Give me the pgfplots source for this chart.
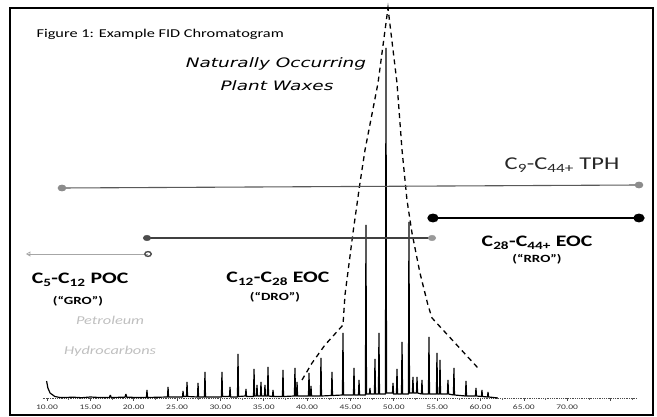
\documentclass[border=0pt]{standalone}
\usepackage{pgfplots}
\pgfplotsset{compat=1.18}
\usepackage{fontspec}
\setmainfont{Carlito}[FakeStretch=1.36]
\newfontfamily\verd{DejaVu Sans}[FakeStretch=1.42]
\tikzset{tl/.style={font=\fontsize{7bp}{8bp}\selectfont, text=black!80}}
\begin{document}
\begin{tikzpicture}
\begin{axis}[
  scale only axis, width=643bp, height=407bp,
  xmin=5.73, xmax=79.9, ymin=-17, ymax=390,
  xtick=\empty, ytick=\empty,
  axis line style={line width=1.2pt},
  clip=false,
]
% dotted time axis
\addplot[black!70, densely dotted, line width=0.8pt] coordinates {(9.5,0) (78,0)};
% tick marks
\addplot[ycomb, black!70, line width=0.6pt, mark=none] coordinates {
(10,-3) (15,-3) (20,-3) (25,-3) (30,-3) (35,-3) (40,-3) (45,-3) (50,-3) (55,-3) (60,-3) (65,-3) (70,-3) (75,-3)};
\addplot[ycomb, black!60, line width=0.5pt, mark=none] coordinates {
(12.5,-2) (17.5,-2) (22.5,-2) (27.5,-2) (32.5,-2) (37.5,-2) (42.5,-2) (47.5,-2) (52.5,-2) (57.5,-2) (62.5,-2) (67.5,-2) (72.5,-2) (77.5,-2)};
% chromatogram
\addplot[black, line width=1.2pt, line join=bevel, mark=none] coordinates {
(9.95,17) (10.1,10) (10.35,5) (10.9,1.5) (11.5,0.5)
(12,0.5) (13,0.8) (14,0.3) (15,1) (16,0.5) (17.2,0.5) (17.3,3) (17.4,0.5) (19,0.8) (19.1,4) (19.2,0.8) (20.5,0.5)
(21.47,0.5) (21.53,8) (21.59,0.5) (23.9,1) (23.96,11) (24.02,1) (25.63,1) (25.69,7) (25.75,1.5)
(26.09,1.5) (26.15,16) (26.21,1.5) (27.36,1) (27.42,15) (27.48,1) (28.16,1) (28.22,26) (28.28,1)
(30.12,1) (30.18,26) (30.24,1.5) (31.05,1.5) (31.11,11) (31.17,1) (31.97,1) (32.03,44) (32.09,1.5)
(32.89,2) (32.95,9) (33.01,1.5) (33.82,1.5) (33.88,29) (33.94,2) (34.16,2) (34.22,13) (34.28,2)
(34.62,2) (34.68,16) (34.74,2) (35.08,2) (35.14,13) (35.2,2) (35.43,2) (35.49,31) (35.55,2)
(36.01,1.5) (36.07,8) (36.13,1.5) (37.16,1.5) (37.22,28) (37.28,1.5) (38.54,2) (38.6,30) (38.66,2)
(38.78,2) (38.84,16) (38.9,2) (40.16,2) (40.22,25) (40.28,2) (40.39,2) (40.45,12) (40.51,2)
(41.54,2) (41.6,40) (41.66,2) (42.81,2.5) (42.87,26) (42.93,2.5) (44.08,3) (44.14,65) (44.2,3)
(45.35,3) (45.41,30) (45.47,3) (45.93,3) (45.99,18) (46.05,3) (46.73,3) (46.79,173) (46.85,4)
(47.19,4) (47.25,10) (47.31,4) (47.77,4) (47.83,39) (47.89,4) (48.23,4) (48.29,65) (48.35,4)
(49.04,4) (49.1,350) (49.16,5) (49.85,5) (49.91,15) (49.97,4) (50.31,4) (50.37,29) (50.43,4)
(50.89,4) (50.95,56) (51.01,4) (51.69,4) (51.75,176) (51.81,5) (52.15,5) (52.21,21) (52.27,5)
(52.62,5) (52.68,21) (52.74,5) (53.19,4) (53.25,18) (53.31,4) (54,4) (54.06,61) (54.12,4)
(54.92,4) (54.98,45) (55.04,4) (55.27,4) (55.33,38) (55.39,4) (56.19,4) (56.25,18) (56.31,4)
(56.88,3) (56.94,30) (57,3) (58.27,2) (58.33,17) (58.39,2) (59.42,2) (59.48,10) (59.54,2)
(60.11,1.5) (60.17,8) (60.23,1.5) (60.81,1) (60.87,6) (60.93,1) (61.5,0.5) (62,0)};
% dashed envelope
\addplot[black, line width=1.3pt, dash pattern=on 5bp off 4bp, mark=none] coordinates {
(39.41,18) (40.57,35) (42.06,53) (44.14,73) (44.37,103) (45.29,165) (46.10,215) (46.68,248) (48.18,315) (49.33,390)
(50.37,315) (50.95,248) (51.52,198) (52.10,165) (53.02,125) (53.94,93) (54.41,80) (59.71,30)};
% TPH range
\addplot[black!65, line width=1.1pt, mark=*, mark size=2.8bp, mark options={xscale=1.35, fill=black!45, draw=black!45}] coordinates {(11.73,210) (78.28,213)};
% RRO range
\addplot[black, line width=2.2pt, mark=*, mark size=3.3bp, mark options={xscale=1.35, fill=black, draw=black}] coordinates {(54.52,180) (78.28,180)};
% DRO range
\addplot[black!75, line width=1.3pt, mark=none] coordinates {(21.53,160) (54.41,160)};
\addplot[only marks, mark=*, mark size=2.8bp, mark options={xscale=1.35, fill=black!70, draw=black!70}] coordinates {(21.53,160)};
\addplot[only marks, mark=*, mark size=2.8bp, mark options={xscale=1.35, fill=black!40, draw=black!40}] coordinates {(54.41,160)};
% GRO range
\addplot[black!35, line width=0.9pt, mark=none] coordinates {(7.81,144) (21.65,144)};
\addplot[only marks, mark=o, mark size=2.4bp, mark options={xscale=1.35, draw=black!70, line width=1.4pt}] coordinates {(21.65,144)};
\addplot[only marks, mark=triangle, mark size=2.2bp, mark options={rotate=90, draw=black!35, line width=0.7pt}] coordinates {(7.9,144)};
% tick labels
\node[tl] at (axis cs:10,-9) {10.00};
\node[tl] at (axis cs:15,-9) {15.00};
\node[tl] at (axis cs:20,-9) {20.00};
\node[tl] at (axis cs:25,-9) {25.00};
\node[tl] at (axis cs:30,-9) {30.00};
\node[tl] at (axis cs:35,-9) {35.00};
\node[tl] at (axis cs:40,-9) {40.00};
\node[tl] at (axis cs:45,-9) {45.00};
\node[tl] at (axis cs:50,-9) {50.00};
\node[tl] at (axis cs:55,-9) {55.00};
\node[tl] at (axis cs:60,-9) {60.00};
\node[tl] at (axis cs:65,-9) {65.00};
\node[tl] at (axis cs:70,-9) {70.00};
% texts
\node[anchor=west, font=\fontsize{12bp}{14bp}\selectfont] at (axis cs:8.39,364) {Figure 1: Example FID Chromatogram};
\node[font=\verd\itshape\fontsize{13bp}{15bp}\selectfont] at (axis cs:36.41,334) {Naturally Occurring};
\node[font=\verd\itshape\fontsize{13bp}{15bp}\selectfont] at (axis cs:36.53,312) {Plant Waxes};
\node[font=\fontsize{18bp}{20bp}\selectfont, text=black!85] at (axis cs:69.4,233) {C\textsubscript{9}-C\textsubscript{44+} TPH};
\node[font=\bfseries\fontsize{16bp}{18bp}\selectfont] at (axis cs:66.52,155) {C\textsubscript{28}-C\textsubscript{44+} EOC};
\node[font=\bfseries\fontsize{11bp}{13bp}\selectfont] at (axis cs:66.52,139) {(“RRO”)};
\node[font=\bfseries\fontsize{16bp}{18bp}\selectfont] at (axis cs:13.81,118) {C\textsubscript{5}-C\textsubscript{12} POC};
\node[font=\bfseries\fontsize{11bp}{13bp}\selectfont] at (axis cs:13.58,97) {(“GRO”)};
\node[font=\bfseries\fontsize{16bp}{18bp}\selectfont] at (axis cs:36.64,119) {C\textsubscript{12}-C\textsubscript{28} EOC};
\node[font=\bfseries\fontsize{11bp}{13bp}\selectfont] at (axis cs:36.3,101) {(“DRO”)};
\node[font=\itshape\fontsize{12bp}{14bp}\selectfont, text=black!25] at (axis cs:17.27,78) {Petroleum};
\node[font=\itshape\fontsize{12bp}{14bp}\selectfont, text=black!25] at (axis cs:17.27,47) {Hydrocarbons};
\end{axis}
\path (current axis.south west) ++(-10bp,-2bp) coordinate (bbA);
\path (current axis.north east) ++(4bp,8bp) coordinate (bbB);
\path (bbA) rectangle (bbB);
\end{tikzpicture}
\end{document}
